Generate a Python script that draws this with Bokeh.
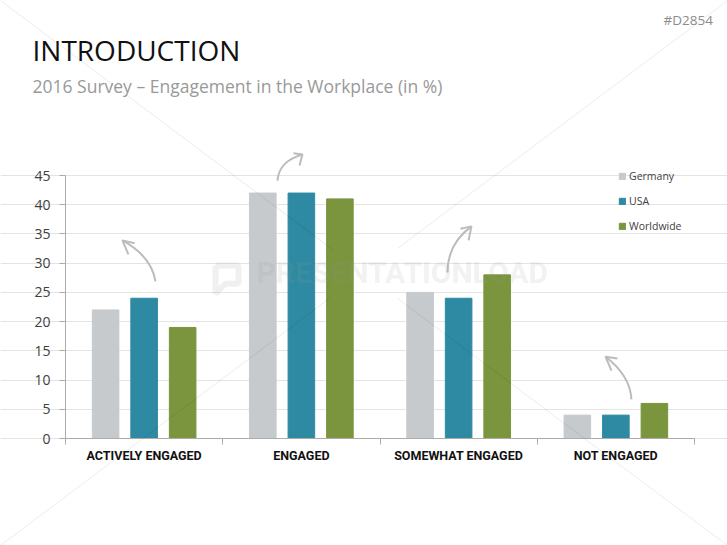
from bokeh.embed import file_html
from bokeh.models import Arrow, FixedTicker, Label, Legend, LegendItem, Range1d
from bokeh.plotting import figure
from bokeh.resources import INLINE

categories = ["ACTIVELY ENGAGED", "ENGAGED", "SOMEWHAT ENGAGED", "NOT ENGAGED"]
germany = [22, 42, 25, 4]
usa = [24, 42, 24, 4]
worldwide = [19, 41, 28, 6]
y_ticks = [0, 5, 10, 15, 20, 25, 30, 35, 40, 45]

# curved arrows above the groups: start, control 1, control 2, tip, two barbs
arrow_x0 = [0.572, 1.348, 2.429, 3.599]
arrow_y0 = [26.9, 44.1, 28.4, 6.7]
arrow_cx0 = [0.553, 1.355, 2.429, 3.593]
arrow_cy0 = [30.1, 46.7, 32.2, 9.9]
arrow_cx1 = [0.477, 1.418, 2.499, 3.517]
arrow_cy1 = [32.2, 47.9, 34.7, 12.3]
arrow_x1 = [0.362, 1.507, 2.582, 3.434]
arrow_y1 = [33.9, 48.6, 36.3, 14.0]
barb_xs = [[0.439, 0.362, 0.40], [1.45, 1.507, 1.488], [2.512, 2.582, 2.563], [3.51, 3.434, 3.472]]
barb_ys = [[33.4, 33.9, 31.5], [48.8, 48.6, 46.7], [35.9, 36.3, 33.9], [13.7, 14.0, 11.6]]

# watermark speech bubble
bubble_x = [0.954, 1.10, 1.10, 1.017, 0.954, 0.954]
bubble_y = [29.6, 29.6, 26.5, 26.5, 24.8, 29.6]

W, H = 727, 545
X0, Y0 = 65, 438  # where the axes cross on the slide
UNIT_X, UNIT_Y = 157.25, 5.844  # pixels per group, pixels per percent
x_pos = [i + 0.5 for i in range(len(categories))]

# the frame fills the whole slide so nothing above the axes is clipped
p = figure(width=W, height=H, output_backend="svg", toolbar_location=None,
           x_range=Range1d(-X0 / UNIT_X, (W - X0) / UNIT_X),
           y_range=Range1d(-(H - Y0) / UNIT_Y, Y0 / UNIT_Y),
           min_border=0)
p.outline_line_color = None
p.xgrid.visible = False
p.ygrid.ticker = FixedTicker(ticks=y_ticks)
p.ygrid.grid_line_color = "#e4e4e4"
p.ygrid.grid_line_width = 1.2
p.ygrid.bounds = (0, 4)

p.yaxis.fixed_location = 0
p.yaxis.ticker = FixedTicker(ticks=y_ticks)
p.yaxis.bounds = (0, 45)
p.yaxis.axis_line_color = "#ababab"
p.yaxis.major_tick_line_color = "#ababab"
p.yaxis.major_tick_in = 0
p.yaxis.major_tick_out = 6
p.yaxis.minor_tick_line_color = None
p.yaxis.major_label_text_font = "Open Sans"
p.yaxis.major_label_text_font_size = "14px"
p.yaxis.major_label_text_color = "#404040"
p.yaxis.major_label_standoff = 9

p.xaxis.fixed_location = 0
p.xaxis.ticker = FixedTicker(ticks=x_pos, minor_ticks=[0, 1, 2, 3, 4])
p.xaxis.bounds = (0, 4)
p.xaxis.major_label_overrides = dict(zip(x_pos, categories))
p.xaxis.axis_line_color = "#ababab"
p.xaxis.major_tick_line_color = None
p.xaxis.minor_tick_line_color = "#ababab"
p.xaxis.minor_tick_in = 0
p.xaxis.minor_tick_out = 6
p.xaxis.major_label_text_font = "Roboto"
p.xaxis.major_label_text_font_style = "bold"
p.xaxis.major_label_text_font_size = "12.5px"
p.xaxis.major_label_text_color = "#111111"
p.xaxis.major_label_standoff = 3

bar_w = 0.169
g = p.vbar(x=[v - 0.245 for v in x_pos], top=germany, width=bar_w, color="#c6cacd")
u = p.vbar(x=x_pos, top=usa, width=bar_w, color="#2e8aa3")
w = p.vbar(x=[v + 0.245 for v in x_pos], top=worldwide, width=bar_w, color="#7a953d")

p.bezier(x0=arrow_x0, y0=arrow_y0, x1=arrow_x1, y1=arrow_y1, cx0=arrow_cx0, cy0=arrow_cy0,
         cx1=arrow_cx1, cy1=arrow_cy1, line_color="#bcbcbc", line_width=2)
p.multi_line(xs=barb_xs, ys=barb_ys, line_color="#bcbcbc", line_width=2)
p.line(bubble_x, bubble_y, line_color="#999999", line_alpha=0.15, line_width=6, level="overlay")

legend = Legend(items=[LegendItem(label="Germany", renderers=[g]),
                       LegendItem(label="USA", renderers=[u]),
                       LegendItem(label="Worldwide", renderers=[w])],
                location=(618, 311), orientation="vertical", spacing=9,
                background_fill_alpha=0, border_line_color=None, padding=0, margin=0,
                glyph_width=8, glyph_height=8, label_standoff=3, label_height=16,
                label_text_font="Open Sans", label_text_font_size="10.5px", label_text_color="#404040")
p.add_layout(legend, "center")


def text(x, y, s, **kw):
    p.add_layout(Label(x=x, y=H - y, x_units="screen", y_units="screen", text=s, **kw))


text(32, 68, "INTRODUCTION", text_font="Open Sans", text_font_size="28px", text_color="#111111")
text(32, 97, "2016 Survey \u2013 Engagement in the Workplace (in %)", text_font="Open Sans",
     text_font_size="17.5px", text_color="#999999")
text(663, 28, "#D2854", text_font="Open Sans", text_font_size="13.5px", text_color="#8c8c8c")
text(256, 289, "PRESENTATIONLOAD", text_font="Roboto", text_font_style="bold",
     text_font_size="30px", text_color="#999999", text_alpha=0.15)

# faint diagonal watermark strokes across the slide
for x0, y0, x1, y1 in [(0, 0, 332, 249), (397, 298, 727, 545),
                       (727, 0, 397, 248), (330, 297, 0, 545)]:
    p.add_layout(Arrow(end=None, x_start=x0, y_start=H - y0, x_end=x1, y_end=H - y1,
                       start_units="screen", end_units="screen",
                       line_color="#000000", line_alpha=0.08, line_width=1))

open("out.html", "w").write(file_html(p, INLINE))
